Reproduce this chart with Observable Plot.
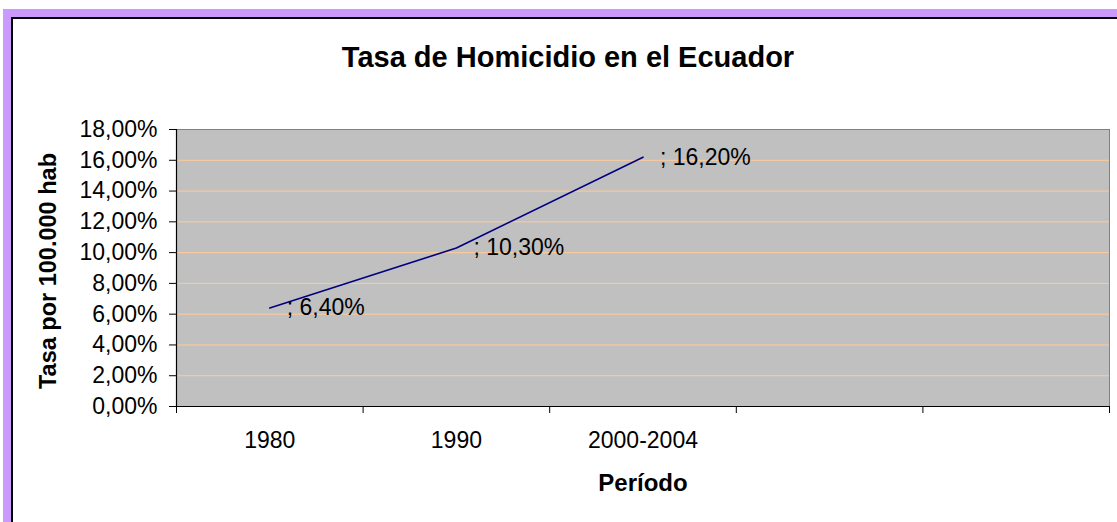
<!DOCTYPE html>
<html>
<head>
<meta charset="utf-8">
<script src="https://cdn.jsdelivr.net/npm/d3@7"></script>
<script src="https://cdn.jsdelivr.net/npm/@observablehq/plot@0.6"></script>
<style>
  html, body { margin: 0; padding: 0; background: #fff; }
  #wrap { position: relative; width: 1117px; height: 522px; overflow: hidden; background: #fff; }
  #purple { position: absolute; left: 3px; top: 9px; width: 1300px; height: 700px;
            border-top: 8px solid #CC99FF; border-left: 8px solid #CC99FF; pointer-events: none; }
  #black { position: absolute; left: 11px; top: 17px; width: 1300px; height: 700px;
           border-top: 2px solid #000; border-left: 2px solid #000; pointer-events: none; }
  #chart { position: absolute; left: 0; top: 0; }
</style>
</head>
<body>
<div id="wrap">
  <div id="chart"></div>
  <div id="purple"></div>
  <div id="black"></div>
</div>
<script>
// ---- data ----
const categories = ["1980", "1990", "2000-2004", "", ""];
const periods = ["1980", "1990", "2000-2004"];
const rates = [6.4, 10.3, 16.2];
const yTicks = [0, 2, 4, 6, 8, 10, 12, 14, 16, 18];
const gridValues = [2, 4, 6, 8, 10, 12, 14, 16];
const titleText = "Tasa de Homicidio en el Ecuador";
const yTitle = "Tasa por 100.000 hab";
const xTitle = "Período";

const data = periods.map((p, i) => ({period: p, idx: i, rate: rates[i]}));
const catIdx = d3.range(categories.length + 1);         // category boundaries
const catCenters = categories.map((c, i) => i + 0.5);

const fmtPct = v => v.toFixed(2).replace(".", ",") + "%";
const font = "'Liberation Sans', Arial, Helvetica, sans-serif";

const chart = Plot.plot({
  width: 1117,
  height: 522,
  marginLeft: 176,
  marginRight: 8,
  marginTop: 129,
  marginBottom: 116,
  style: {background: "transparent", fontFamily: font, color: "#000"},
  x: {type: "linear", domain: [0, categories.length]},
  y: {type: "linear", domain: [0, 18]},
  marks: [
    Plot.frame({fill: "#C0C0C0", stroke: null}),
    Plot.ruleY(gridValues, {stroke: "#FFCC99", strokeWidth: 1}),
    Plot.frame({stroke: "#808080", strokeWidth: 1}),
    // y axis
    Plot.axisY({ticks: yTicks, tickSize: 7, tickPadding: 12, tickFormat: fmtPct,
                fontSize: 23, label: null, stroke: "#000"}),
    // x axis tick marks at category boundaries
    Plot.axisX({ticks: catIdx, tickSize: 7, tickFormat: () => "", label: null, stroke: "#000"}),
    // x axis labels at category centers
    Plot.axisX({ticks: catCenters, tickSize: 0, tickPadding: 25,
                tickFormat: v => categories[Math.round(v - 0.5)], fontSize: 23, label: null}),
    Plot.ruleX([0], {stroke: "#000", strokeWidth: 1.2}),
    Plot.ruleY([0], {stroke: "#000", strokeWidth: 1.2}),
    // series
    Plot.line(data, {x: d => d.idx + 0.5, y: "rate", stroke: "#000080", strokeWidth: 1.6}),
    Plot.text(data, {x: d => d.idx + 0.5, y: "rate", text: d => "; " + fmtPct(d.rate),
                     textAnchor: "start", dx: 17, dy: 0, fontSize: 23, fill: "#000"}),
    // titles
    Plot.text([titleText], {frameAnchor: "top", dx: -75, dy: -72, fontSize: 29, fontWeight: "bold",
                            fill: "#000", lineAnchor: "middle", textAnchor: "middle"}),
    Plot.text([yTitle], {frameAnchor: "left", dx: -128, dy: 3, rotate: -90, fontSize: 23.5, fontWeight: "bold",
                         fill: "#000", lineAnchor: "middle", textAnchor: "middle"}),
    Plot.text([xTitle], {frameAnchor: "bottom", dy: 77, fontSize: 24, fontWeight: "bold",
                         fill: "#000", lineAnchor: "middle", textAnchor: "middle"})
  ]
});
document.getElementById("chart").appendChild(chart);
</script>
</body>
</html>
